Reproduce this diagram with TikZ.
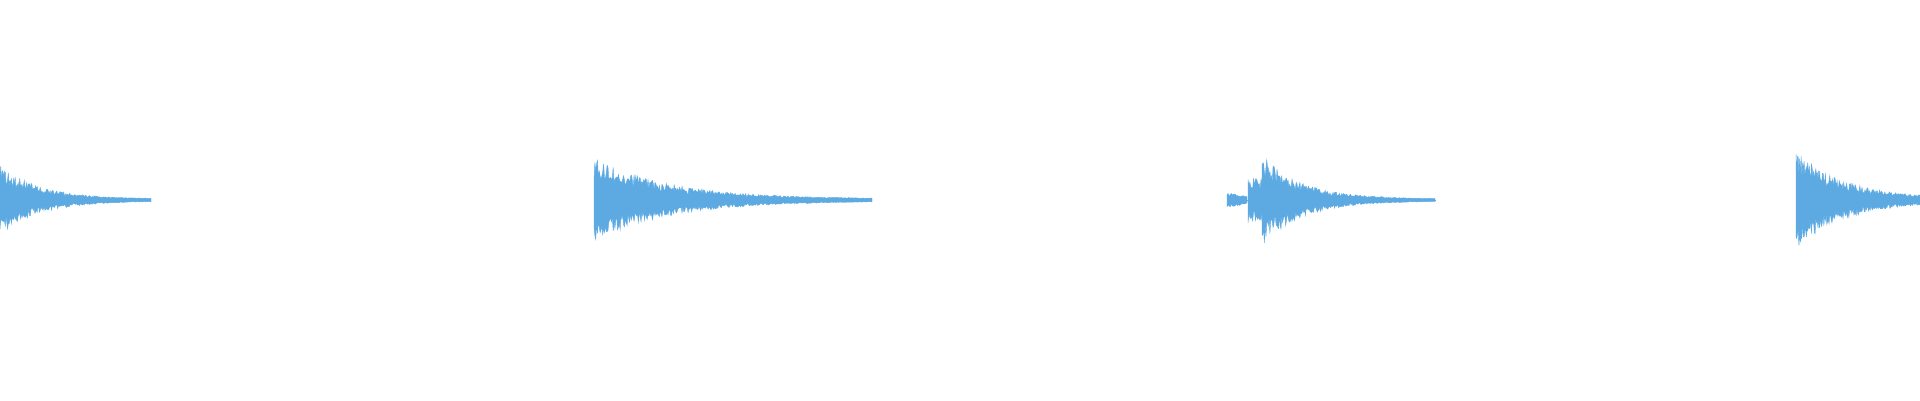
\documentclass[tikz,border=0pt]{standalone}
\definecolor{wave}{RGB}{93,170,226}
\tikzset{wavefill/.style={fill=wave,draw=wave,line width=0.4pt}}
\newcommand{\myburst}[5]{% x0 x1 amp tau samples
  \fill[wavefill] plot[domain=#1:#2,samples=#5] (\x,{200+1+#3*exp(-(\x-#1)/#4)*(0.45+0.55*rnd)})
   -- plot[domain=#2:#1,samples=#5] (\x,{200-1-#3*exp(-(\x-#1)/#4)*(0.45+0.55*rnd)}) -- cycle;}
\begin{document}
\begin{tikzpicture}[x=1pt,y=1pt]
\pgfmathsetseed{42}
\useasboundingbox (0,0) rectangle (1920,400);
\myburst{0}{151}{34}{40}{200}
\myburst{594}{872}{41}{75}{320}
\myburst{1227}{1247}{7}{30}{20}
\fill[wave] (1245,199.5) rectangle (1249,200.5);
\myburst{1248}{1262}{22}{200}{16}
\myburst{1262}{1435}{45}{40}{220}
\fill[wave] (1433,199.5) rectangle (1436,200.5);
\myburst{1796}{1920}{48}{50}{170}
\end{tikzpicture}
\end{document}
